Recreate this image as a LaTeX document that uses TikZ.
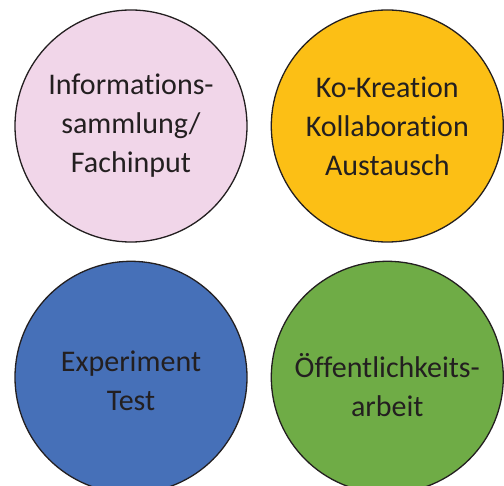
\documentclass[tikz,border=0pt]{standalone}
\usepackage{fontspec}
\setmainfont[Ligatures=NoCommon,Contextuals=NoAlternate]{Carlito}
\usepackage{tikz}
\usetikzlibrary{positioning}
\definecolor{phasepink}{HTML}{F1D6E9}
\definecolor{phaseamber}{HTML}{FCBF15}
\definecolor{phaseblue}{HTML}{4670B8}
\definecolor{phasegreen}{HTML}{6FAC46}
\definecolor{phaseink}{HTML}{231F20}

\begin{document}
\begin{tikzpicture}[
  x=1pt,y=1pt,
  node distance=18pt and 23pt,
  phasetext/.style={align=center,text=phaseink,
              font=\fontsize{30}{39}\selectfont},
  phase/.style={circle,draw=phaseink,line width=1.3pt,minimum size=232pt,
              inner sep=0pt,phasetext}]

  \useasboundingbox (0,0) rectangle (504,-486);

  \node[phase,fill=phasepink] (info) at (131,-126) {Informations-\\sammlung/\\Fachinput};
  \node[phase,fill=phaseamber,right=of info] (kokreation) {Ko-Kreation\\Kollaboration\\Austausch};
  \node[phase,fill=phaseblue,below=of info] (experiment) {};
  \node[phase,fill=phasegreen,below=of kokreation] (oeffentlich) {};

  \node[phasetext] (experiment-text) at ([yshift=-3pt]experiment.center) {Experiment\\Test};
  \node[phasetext] (oeffentlich-text) at ([yshift=-8pt]oeffentlich.center) {Öffentlichkeits-\\arbeit};
\end{tikzpicture}
\end{document}
